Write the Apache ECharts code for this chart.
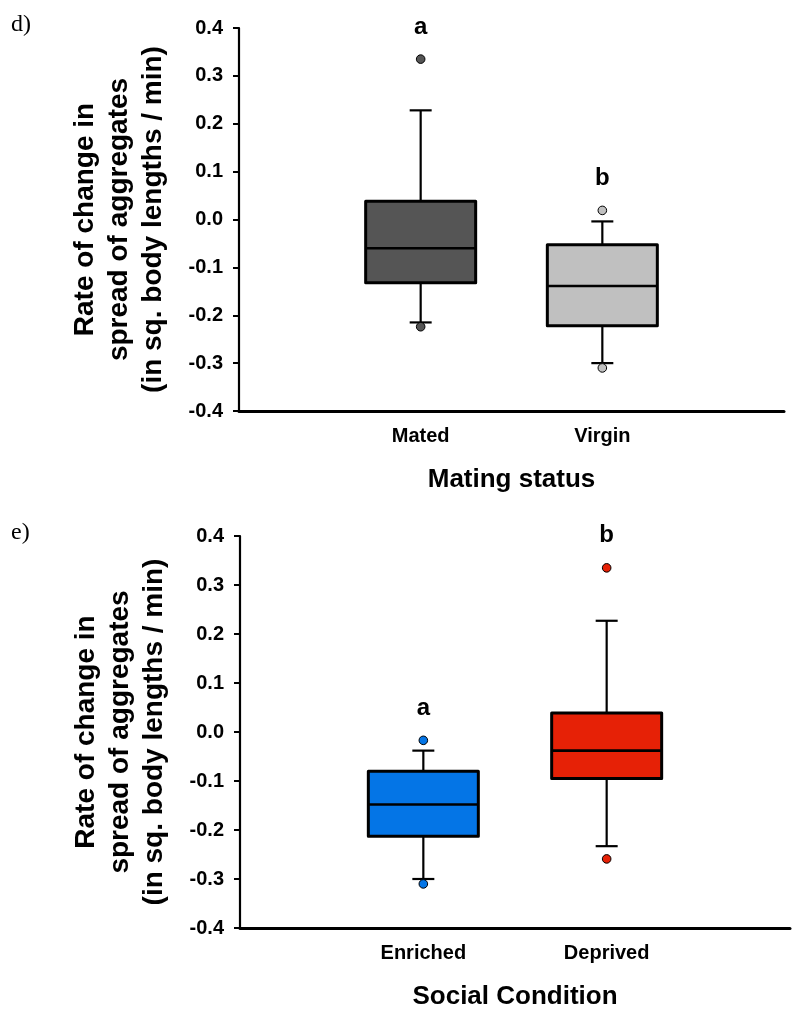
<!DOCTYPE html>
<html>
<head>
<meta charset="utf-8">
<script src="https://cdn.jsdelivr.net/npm/echarts@6/dist/echarts.min.js"></script>
<style>
  html, body { margin: 0; padding: 0; background: #ffffff; }
  #chart { width: 793px; height: 1014px; }
</style>
</head>
<body>
<div id="chart"></div>
<script>
// Panel d: mating status
const matingCategories = ['Mated', 'Virgin'];
// [lower whisker, Q1, median, Q3, upper whisker]
const matingStats = [
  [-0.215, -0.132, -0.060, 0.038, 0.228],
  [-0.300, -0.222, -0.139, -0.053, -0.004]
];
const matingOutliers = [
  [0.335, -0.224],
  [0.019, -0.310]
];
const matingLetters = ['a', 'b'];
const matingColors = ['#555555', '#c0c0c0'];

// Panel e: social condition
const socialCategories = ['Enriched', 'Deprived'];
const socialStats = [
  [-0.300, -0.213, -0.148, -0.080, -0.038],
  [-0.233, -0.095, -0.038, 0.039, 0.227]
];
const socialOutliers = [
  [-0.017, -0.310],
  [0.335, -0.259]
];
const socialLetters = ['a', 'b'];
const socialColors = ['#0475e6', '#e62106'];

const yMin = -0.4, yMax = 0.4, yStep = 0.1;
const yTitle = 'Rate of change in\nspread of aggregates\n(in sq. body lengths / min)';

const FONT = '"Liberation Sans", Arial, sans-serif';

// Pad the category list so groups sit at 1/3 and 2/3 of the axis
function padded(cats) { return [''].concat(cats, ['']); }

function boxRender(colors, outliers, letters) {
  return function (params, api) {
    const i = api.value(0);
    const idx = params.dataIndex;
    const x = api.coord([i, 0])[0];
    const yLo = api.coord([i, api.value(1)])[1];
    const yQ1 = api.coord([i, api.value(2)])[1];
    const yMed = api.coord([i, api.value(3)])[1];
    const yQ3 = api.coord([i, api.value(4)])[1];
    const yHi = api.coord([i, api.value(5)])[1];
    const half = 55, cap = 11;
    const line = { stroke: '#000', lineWidth: 2.2 };
    const children = [
      { type: 'line', shape: { x1: x, y1: yHi, x2: x, y2: yQ3 }, style: line },
      { type: 'line', shape: { x1: x, y1: yQ1, x2: x, y2: yLo }, style: line },
      { type: 'line', shape: { x1: x - cap, y1: yHi, x2: x + cap, y2: yHi }, style: line },
      { type: 'line', shape: { x1: x - cap, y1: yLo, x2: x + cap, y2: yLo }, style: line },
      { type: 'rect', shape: { x: x - half, y: yQ3, width: 2 * half, height: yQ1 - yQ3 },
        style: { fill: colors[idx], stroke: '#000', lineWidth: 3, lineJoin: 'round' } },
      { type: 'line', shape: { x1: x - half, y1: yMed, x2: x + half, y2: yMed },
        style: { stroke: '#000', lineWidth: 2.6 } }
    ];
    const pts = outliers[idx];
    pts.forEach(function (v) {
      const p = api.coord([i, v]);
      children.push({ type: 'circle', shape: { cx: p[0], cy: p[1], r: 4.3 },
        style: { fill: colors[idx], stroke: '#000', lineWidth: 1 } });
    });
    const top = api.coord([i, Math.max.apply(null, pts.concat([api.value(5)]))]);
    children.push({ type: 'text', x: top[0], y: top[1] - 32,
      style: { text: letters[idx], fill: '#000', font: 'bold 24px ' + FONT,
        align: 'center', verticalAlign: 'middle' } });
    return { type: 'group', children: children };
  };
}

function seriesData(stats) {
  return stats.map(function (s, k) { return [k + 1].concat(s); });
}

function xAxisFor(gridIndex, cats, name, nameGap) {
  return {
    type: 'category', gridIndex: gridIndex, data: padded(cats), boundaryGap: false,
    axisLine: { onZero: false, lineStyle: { color: '#000', width: 3 } },
    axisTick: { show: false },
    axisLabel: { color: '#000', fontFamily: FONT, fontWeight: 'bold', fontSize: 20, margin: 15 },
    name: name, nameLocation: 'middle', nameGap: nameGap,
    nameTextStyle: { color: '#000', fontFamily: FONT, fontWeight: 'bold', fontSize: 26 }
  };
}

function yAxisFor(gridIndex) {
  return {
    type: 'value', gridIndex: gridIndex, min: yMin, max: yMax, interval: yStep,
    axisLine: { show: true, onZero: false, lineStyle: { color: '#000', width: 2.2 } },
    axisTick: { show: true, length: 6, lineStyle: { color: '#000', width: 2 } },
    splitLine: { show: false },
    axisLabel: { color: '#000', fontFamily: FONT, fontWeight: 'bold', fontSize: 20, margin: 16,
      formatter: function (v) { return v.toFixed(1); } },
    name: yTitle, nameLocation: 'middle', nameGap: 69, nameRotate: 90,
    nameTextStyle: { color: '#000', fontFamily: FONT, fontWeight: 'bold', fontSize: 28,
      lineHeight: 34, align: 'center' }
  };
}

const chart = echarts.init(document.getElementById('chart'), null, { renderer: 'canvas' });
chart.setOption({
  backgroundColor: '#ffffff',
  animation: false,
  title: [
    { text: 'd)', left: 6, top: 8, textStyle: { fontFamily: '"Liberation Serif", "Times New Roman", serif', fontWeight: 'normal', fontSize: 24, color: '#000' } },
    { text: 'e)', left: 6, top: 516, textStyle: { fontFamily: '"Liberation Serif", "Times New Roman", serif', fontWeight: 'normal', fontSize: 24, color: '#000' } }
  ],
  grid: [
    { left: 239, top: 28, width: 545, height: 383 },
    { left: 240, top: 536, width: 553, height: 392 }
  ],
  xAxis: [
    xAxisFor(0, matingCategories, 'Mating status', 56),
    xAxisFor(1, socialCategories, 'Social Condition', 56)
  ],
  yAxis: [yAxisFor(0), yAxisFor(1)],
  series: [
    {
      type: 'custom', xAxisIndex: 0, yAxisIndex: 0, clip: false,
      renderItem: boxRender(matingColors, matingOutliers, matingLetters),
      data: seriesData(matingStats)
    },
    {
      type: 'custom', xAxisIndex: 1, yAxisIndex: 1, clip: false,
      renderItem: boxRender(socialColors, socialOutliers, socialLetters),
      data: seriesData(socialStats)
    }
  ]
});
</script>
</body>
</html>
